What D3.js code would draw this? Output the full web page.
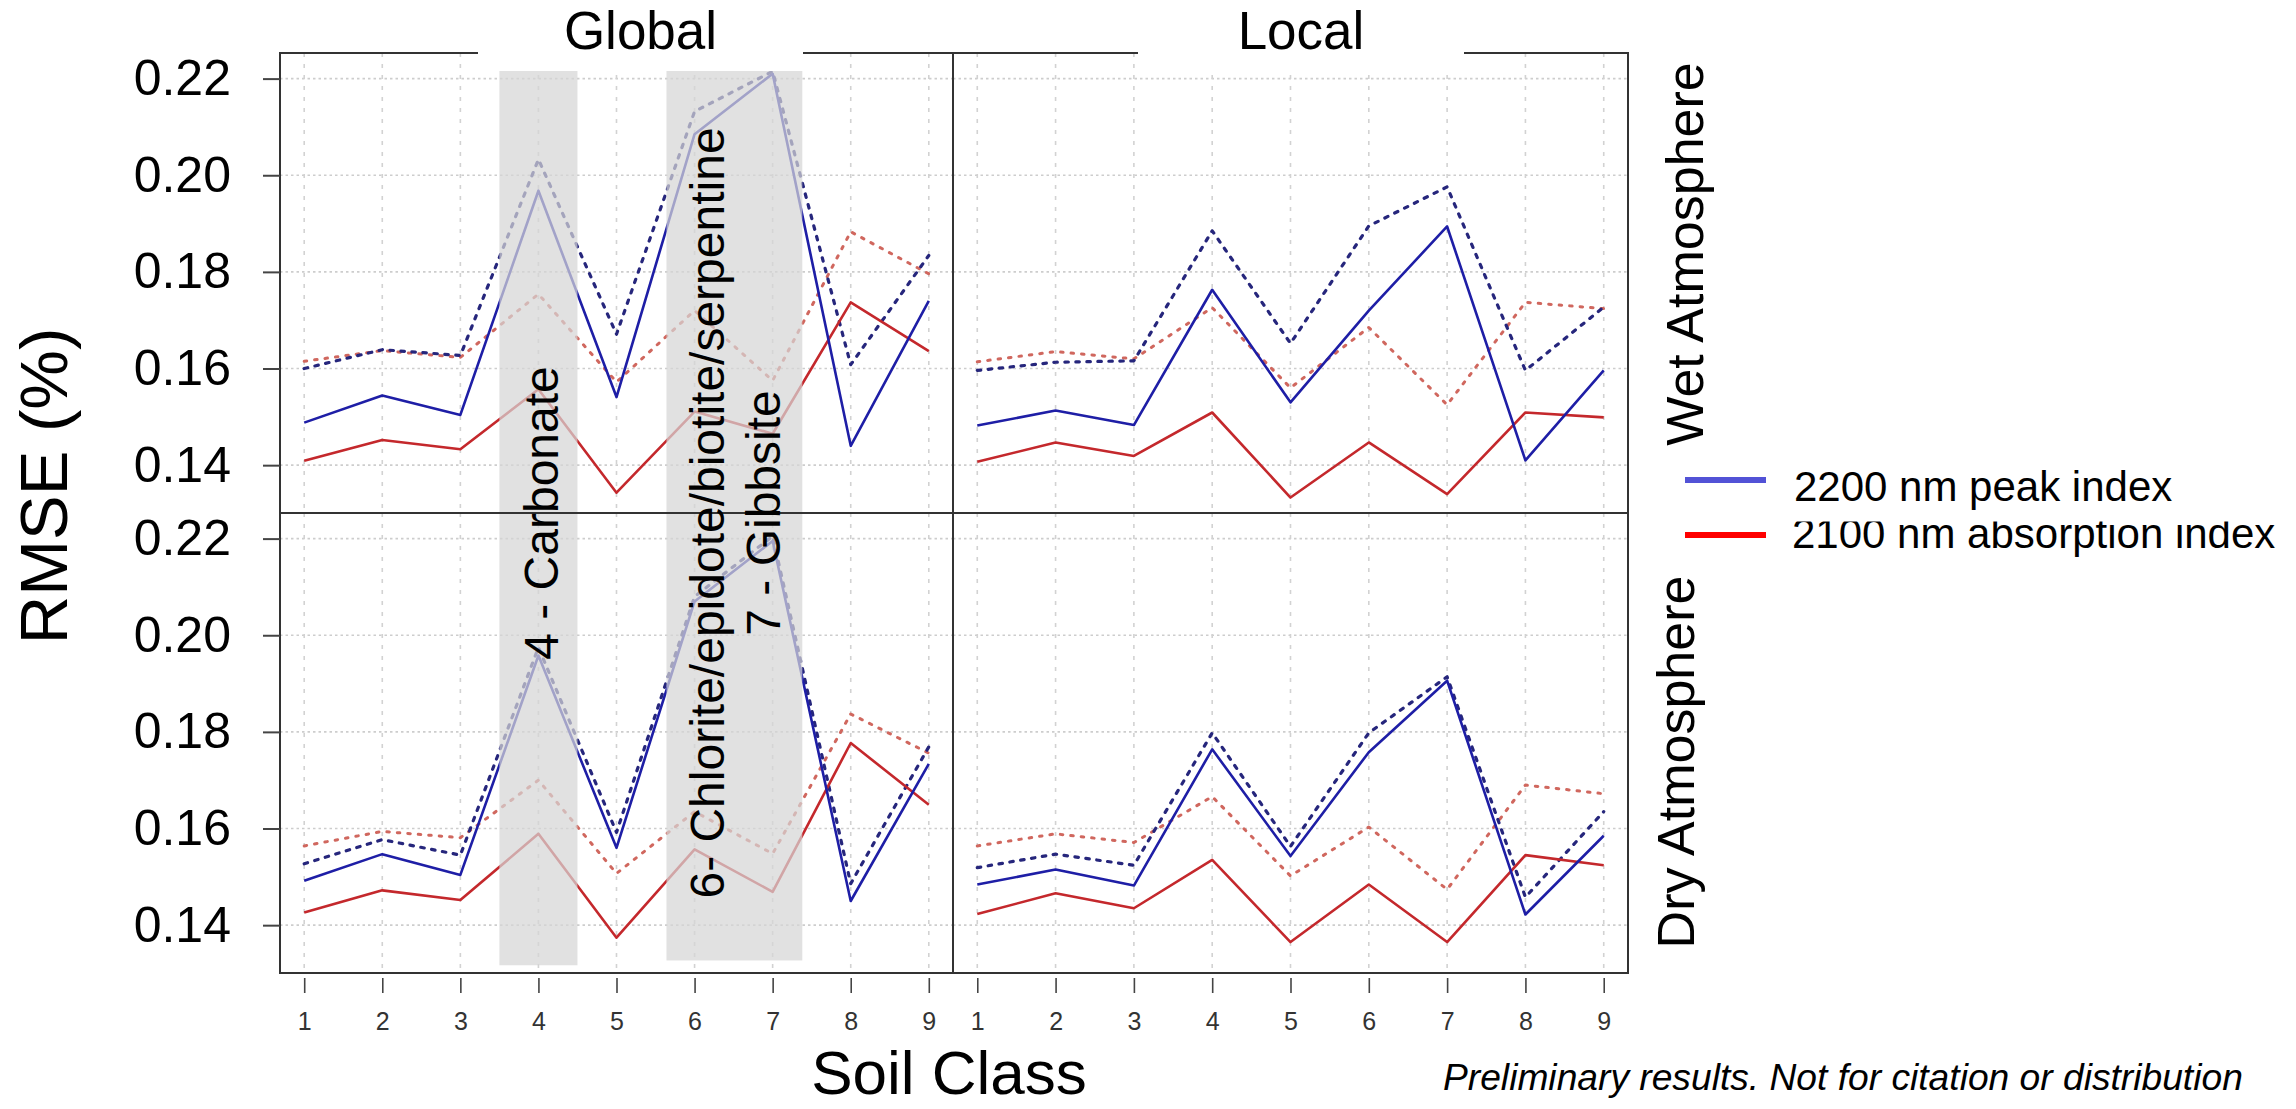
<!DOCTYPE html>
<meta charset="utf-8">
<style>

body { margin: 0; background: #fff; }
text { font-family: "Liberation Sans", Arial, sans-serif; }

</style>
<body>
  <div class="chart"></div>
</body>

<script src="https://d3js.org/d3.v7.min.js"></script>
<script>

var width = 2296, height = 1109;

// categories, ticks and labels
var classes = [1, 2, 3, 4, 5, 6, 7, 8, 9];
var yTicks = [0.14, 0.16, 0.18, 0.20, 0.22];
var columns = ["Global", "Local"];
var rows = ["Wet Atmosphere", "Dry Atmosphere"];
var legendLabels = ["2200 nm peak index", "2100 nm absorption index"];
var annotations = ["4 - Carbonate", "6- Chlorite/epidote/biotite/serpentine", "7 - Gibbsite"];
var annotationAt = [4.03, 6.16, 6.88];
var bandFrom = [3.5, 5.64];
var bandTo = [4.5, 7.38];

// Global, wet atmosphere
var globalWetPeak     = [0.1488, 0.1544, 0.1504, 0.1968, 0.1541, 0.2085, 0.2210, 0.1440, 0.1740];
var globalWetPeakDash = [0.1600, 0.1639, 0.1627, 0.2033, 0.1671, 0.2132, 0.2215, 0.1608, 0.1834];
var globalWetAbs      = [0.1409, 0.1452, 0.1433, 0.1557, 0.1343, 0.1511, 0.1465, 0.1737, 0.1636];
var globalWetAbsDash  = [0.1615, 0.1637, 0.1623, 0.1754, 0.1572, 0.1720, 0.1575, 0.1883, 0.1796];

// Local, wet atmosphere
var localWetPeak      = [0.1482, 0.1513, 0.1483, 0.1763, 0.1530, 0.1720, 0.1894, 0.1410, 0.1596];
var localWetPeakDash  = [0.1596, 0.1613, 0.1616, 0.1885, 0.1652, 0.1895, 0.1976, 0.1596, 0.1727];
var localWetAbs       = [0.1407, 0.1447, 0.1419, 0.1509, 0.1333, 0.1447, 0.1340, 0.1509, 0.1499];
var localWetAbsDash   = [0.1614, 0.1635, 0.1620, 0.1726, 0.1560, 0.1685, 0.1525, 0.1737, 0.1724];

// Global, dry atmosphere
var globalDryPeak     = [0.1492, 0.1547, 0.1504, 0.1958, 0.1560, 0.2070, 0.2195, 0.1450, 0.1734];
var globalDryPeakDash = [0.1527, 0.1577, 0.1545, 0.1975, 0.1592, 0.2080, 0.2205, 0.1486, 0.1769];
var globalDryAbs      = [0.1426, 0.1472, 0.1452, 0.1589, 0.1374, 0.1557, 0.1469, 0.1777, 0.1649];
var globalDryAbsDash  = [0.1564, 0.1594, 0.1581, 0.1700, 0.1507, 0.1635, 0.1548, 0.1837, 0.1756];

// Local, dry atmosphere
var localDryPeak      = [0.1484, 0.1515, 0.1482, 0.1764, 0.1543, 0.1758, 0.1906, 0.1422, 0.1585];
var localDryPeakDash  = [0.1519, 0.1547, 0.1524, 0.1798, 0.1563, 0.1798, 0.1914, 0.1458, 0.1635];
var localDryAbs       = [0.1423, 0.1466, 0.1435, 0.1535, 0.1365, 0.1484, 0.1365, 0.1545, 0.1524];
var localDryAbsDash   = [0.1564, 0.1589, 0.1571, 0.1666, 0.1502, 0.1603, 0.1474, 0.1690, 0.1672];

var panels = [
  {col: 0, row: 0, peak: globalWetPeak, peakDash: globalWetPeakDash, abs: globalWetAbs, absDash: globalWetAbsDash},
  {col: 1, row: 0, peak: localWetPeak,  peakDash: localWetPeakDash,  abs: localWetAbs,  absDash: localWetAbsDash},
  {col: 0, row: 1, peak: globalDryPeak, peakDash: globalDryPeakDash, abs: globalDryAbs, absDash: globalDryAbsDash},
  {col: 1, row: 1, peak: localDryPeak,  peakDash: localDryPeakDash,  abs: localDryAbs,  absDash: localDryAbsDash}
];

// styles
var seriesStyle = {
  absDash:  {stroke: "#d0675e", width: 3,   dash: "2.5,8"},
  peakDash: {stroke: "#26267c", width: 3.2, dash: "3.5,7.5"},
  abs:      {stroke: "#c4282c", width: 2.6, dash: null},
  peak:     {stroke: "#1e1ea6", width: 2.6, dash: null}
};
var drawOrder = ["absDash", "peakDash", "abs", "peak"];
var legendColors = ["#5252d6", "#ff0000"];

// layout
var colX = [[280, 953], [953, 1628]];
var rowY = [[53, 513], [513, 973]];
var xDomain = [0.69, 9.31];
var yDomain = [0.1301, 0.2253];

var xScales = colX.map(function(r) { return d3.scaleLinear().domain(xDomain).range(r); });
var yScales = rowY.map(function(r) { return d3.scaleLinear().domain(yDomain).range([r[1], r[0]]); });

var svg = d3.select(".chart")
        .append("svg")
        .attr("width", width)
        .attr("height", height)
        .style("display", "block");

svg.append("rect").attr("width", width).attr("height", height).attr("fill", "#fff");

// grid
panels.forEach(function(p) {
    var x = xScales[p.col], y = yScales[p.row];
    var g = svg.append("g").attr("class", "grid");
    g.selectAll(".h").data(yTicks).enter().append("line")
        .attr("x1", colX[p.col][0]).attr("x2", colX[p.col][1])
        .attr("y1", function(d) { return y(d); })
        .attr("y2", function(d) { return y(d); })
        .attr("stroke", "#cdcdcd").attr("stroke-width", 1.6)
        .attr("stroke-dasharray", "2.5,3");
    g.selectAll(".v").data(classes).enter().append("line")
        .attr("x1", function(d) { return x(d); })
        .attr("x2", function(d) { return x(d); })
        .attr("y1", rowY[p.row][0]).attr("y2", rowY[p.row][1])
        .attr("stroke", "#d2d2d2").attr("stroke-width", 1.6)
        .attr("stroke-dasharray", "4,7");
});

// lines
panels.forEach(function(p) {
    var x = xScales[p.col], y = yScales[p.row];
    var line = d3.line()
        .x(function(d, i) { return x(classes[i]); })
        .y(function(d) { return y(d); });
    drawOrder.forEach(function(k) {
        var s = seriesStyle[k];
        svg.append("path")
            .datum(p[k])
            .attr("d", line)
            .attr("fill", "none")
            .attr("stroke", s.stroke)
            .attr("stroke-width", s.width)
            .attr("stroke-linejoin", "round")
            .attr("stroke-linecap", s.dash ? "round" : "butt")
            .attr("stroke-dasharray", s.dash);
    });
});

// highlighted classes (Global column)
var bandTop = yScales[0](0.2217);
var bandBottom = [yScales[1](0.1317), yScales[1](0.1327)];
svg.selectAll(".band").data(bandFrom).enter().append("rect")
    .attr("x", function(d) { return xScales[0](d); })
    .attr("width", function(d, i) { return xScales[0](bandTo[i]) - xScales[0](d); })
    .attr("y", bandTop)
    .attr("height", function(d, i) { return bandBottom[i] - bandTop; })
    .attr("fill", "#d6d6d6")
    .attr("fill-opacity", 0.72);

// frame
var frame = svg.append("g").attr("stroke", "#333").attr("stroke-width", 2).attr("fill", "none");
frame.append("rect")
    .attr("x", colX[0][0]).attr("y", rowY[0][0])
    .attr("width", colX[1][1] - colX[0][0])
    .attr("height", rowY[1][1] - rowY[0][0]);
frame.append("line")
    .attr("x1", colX[0][0]).attr("x2", colX[1][1])
    .attr("y1", rowY[1][0]).attr("y2", rowY[1][0]);
frame.append("line")
    .attr("x1", colX[1][0]).attr("x2", colX[1][0])
    .attr("y1", rowY[0][0]).attr("y2", rowY[1][1]);

// strip labels
var strips = [[478, 803], [1138, 1464]];
svg.selectAll(".stripbox").data(columns).enter().append("rect")
    .attr("x", function(d, i) { return strips[i][0]; })
    .attr("width", function(d, i) { return strips[i][1] - strips[i][0]; })
    .attr("y", 0).attr("height", 71)
    .attr("fill", "#fff");
svg.selectAll(".strip").data(columns).enter().append("text")
    .attr("x", function(d, i) { return (strips[i][0] + strips[i][1]) / 2; })
    .attr("y", 49)
    .attr("text-anchor", "middle")
    .style("font-size", "53px")
    .text(function(d) { return d; });

// annotations on the bands
svg.selectAll(".note").data(annotations).enter().append("text")
    .attr("transform", function(d, i) {
        return "translate(" + (xScales[0](annotationAt[i]) + 17) + ",513) rotate(-90)";
    })
    .attr("text-anchor", "middle")
    .style("font-size", "48px")
    .text(function(d) { return d; });

// axes
colX.forEach(function(r, c) {
    var ax = svg.append("g")
        .attr("transform", "translate(0," + (rowY[1][1] + 5) + ")")
        .call(d3.axisBottom(xScales[c]).tickValues(classes).tickSize(15).tickPadding(19).tickFormat(d3.format("d")));
    ax.select(".domain").remove();
    ax.selectAll("line").attr("stroke", "#444").attr("stroke-width", 1.6);
    ax.selectAll("text").attr("fill", "#333")
        .style("font-size", "25px").style("font-family", "'Liberation Sans', Arial, sans-serif");
});

rowY.forEach(function(r, k) {
    var ay = svg.append("g")
        .attr("transform", "translate(" + colX[0][0] + ",0)")
        .call(d3.axisLeft(yScales[k]).tickValues(yTicks).tickSize(17).tickPadding(32).tickFormat(d3.format(".2f")));
    ay.select(".domain").remove();
    ay.selectAll("line").attr("stroke", "#444").attr("stroke-width", 2);
    ay.selectAll("text").attr("fill", "#000")
        .style("font-size", "50px").style("font-family", "'Liberation Sans', Arial, sans-serif");
});

// titles
svg.append("text")
    .attr("transform", "translate(67,486) rotate(-90)")
    .attr("text-anchor", "middle")
    .style("font-size", "67px")
    .text("RMSE (%)");

svg.append("text")
    .attr("x", 949).attr("y", 1094)
    .attr("text-anchor", "middle")
    .style("font-size", "62px")
    .text("Soil Class");

var rowLabelPos = [[1703, 254], [1694, 762]];
svg.selectAll(".rowlab").data(rows).enter().append("text")
    .attr("transform", function(d, i) {
        return "translate(" + rowLabelPos[i][0] + "," + rowLabelPos[i][1] + ") rotate(-90)";
    })
    .attr("text-anchor", "middle")
    .style("font-size", "52px")
    .text(function(d) { return d; });

// legend
svg.append("text")
    .attr("x", 1792).attr("y", 548)
    .style("font-size", "42px")
    .text(legendLabels[1]);
svg.append("rect")
    .attr("x", 1780).attr("y", 466).attr("width", 516).attr("height", 55.5)
    .attr("fill", "#fff");
svg.append("text")
    .attr("x", 1794).attr("y", 501)
    .style("font-size", "42px")
    .text(legendLabels[0]);
svg.selectAll(".legline").data(legendLabels).enter().append("line")
    .attr("x1", 1685).attr("x2", 1766)
    .attr("y1", function(d, i) { return 480 + i * 55; })
    .attr("y2", function(d, i) { return 480 + i * 55; })
    .attr("stroke", function(d, i) { return legendColors[i]; })
    .attr("stroke-width", 6);

svg.append("text")
    .attr("x", 1443).attr("y", 1090)
    .style("font-size", "37.2px")
    .style("font-style", "italic")
    .text("Preliminary results. Not for citation or distribution");

</script>
